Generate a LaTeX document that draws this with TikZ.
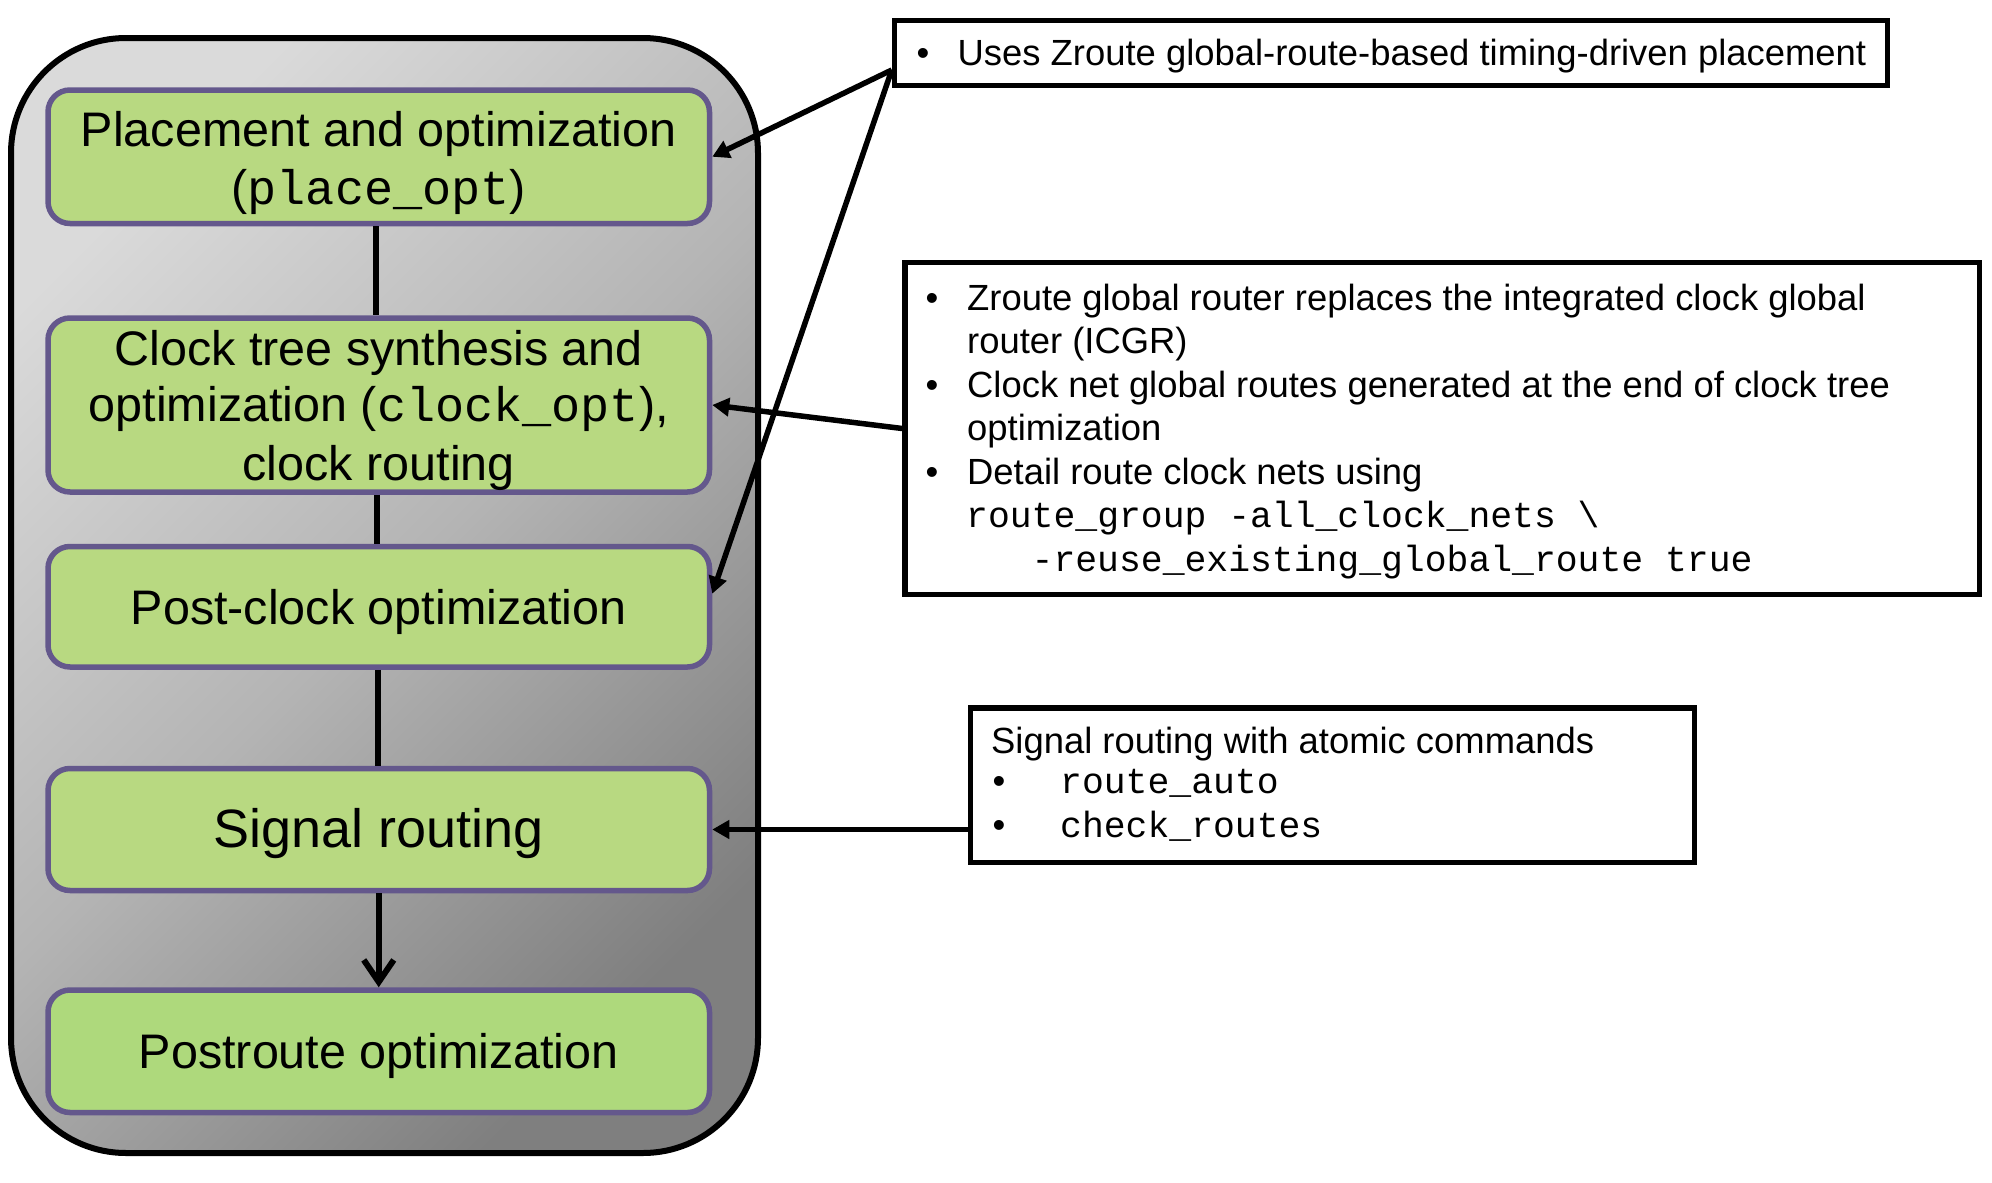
\documentclass[tikz,border=0pt]{standalone}
\usepackage{fontspec}
\setmainfont{Liberation Sans}
\setmonofont{Liberation Mono}
\usetikzlibrary{arrows.meta}
\definecolor{pborder}{HTML}{64588C}
\definecolor{gfill}{HTML}{B8D981}
\definecolor{gfillb}{HTML}{AED97C}
\definecolor{gtop}{HTML}{DADADA}
\definecolor{gmid}{HTML}{B4B4B4}
\definecolor{gbot}{HTML}{7F7F7F}
\tikzset{
  outerbox/.style={draw=black, line width=6pt, rounded corners=115pt,
    minimum width=747pt, minimum height=1115pt, inner sep=0pt,
    top color=gtop, bottom color=gbot, middle color=gmid, shading angle=45},
  gbox/.style={draw=pborder, line width=5.5pt, fill=gfill, rounded corners=22pt,
    minimum width=661.5pt, inner sep=0pt,
    font=\fontsize{48.5}{58}\selectfont},
  tbox/.style={draw=black, line width=5.5pt, inner sep=0pt},
  ln/.style={anchor=base west, inner sep=0pt, font=\fontsize{36.4}{43.6}\selectfont},
  link/.style={line width=6pt},
  conn/.style={line width=5.5pt, -{Triangle[length=17pt,width=18pt]}},
  downarr/.style={line width=6pt, -{Straight Barb[length=22pt,width=30pt]}}
}
\begin{document}
\begin{tikzpicture}[x=1pt,y=-1pt]
\path[use as bounding box, fill=white] (0,0) rectangle (1992,1183);

% container
\node[outerbox] (outer) at (384.5,595.5) {};

% flow boxes
\node[gbox, minimum height=133.5pt, align=center] (b1) at (378.75,156.75)
  {\rule{0pt}{48.5pt}Placement and optimization\\(\texttt{place\_opt})\rule[-12pt]{0pt}{12pt}};
\node[gbox, minimum height=161pt, align=center, font=\fontsize{48.5}{56}\selectfont] (b2) at (378.75,405)
  {\rule{0pt}{47pt}Clock tree synthesis and\\optimization (\texttt{clock\_opt}),\\[3pt]clock routing\rule[-12pt]{0pt}{12pt}};
\node[gbox, minimum height=120.5pt] (b3) at (378.75,606.75)
  {\rule[-11pt]{0pt}{56.5pt}Post-clock optimization};
\node[gbox, minimum height=122pt, font=\fontsize{54}{64}\selectfont] (b4) at (378.75,829.5)
  {\rule[-12pt]{0pt}{59pt}Signal routing};
\node[gbox, fill=gfillb, minimum height=122.5pt] (b5) at (378.75,1051.25)
  {\rule[-11pt]{0pt}{55.5pt}Postroute optimization};

% flow links
\draw[link] ([xshift=-3pt]b1.south) -- ([xshift=-3pt]b2.north);
\draw[link] ([xshift=-2pt]b2.south) -- ([xshift=-2pt]b3.north);
\draw[link] ([xshift=-1pt]b3.south) -- ([xshift=-1pt]b4.north);
\draw[downarr] (b4.south) -- (b5.north);

% note boxes
\node[tbox, minimum width=993pt, minimum height=65pt] (tb1) at (1391,53) {};
\node[tbox, minimum width=1074.5pt, minimum height=332pt] (tb2) at (1442.25,428.5) {};
\node[tbox, minimum width=724pt, minimum height=154.5pt] (tb3) at (1332.5,785.25) {};

% note texts
\node[ln] (t11) at (916.5,65.5) {\makebox[41pt][l]{•}Uses Zroute global-route-based timing-driven placement};

\node[ln] (t21) at (925.5,310) {\makebox[41.5pt][l]{•}Zroute global router replaces the integrated clock global};
\node[ln] (t22) at (967,353.5) {router (ICGR)};
\node[ln] (t23) at (925.5,397) {\makebox[41.5pt][l]{•}Clock net global routes generated at the end of clock tree};
\node[ln] (t24) at (967,440.5) {optimization};
\node[ln] (t25) at (925.5,484) {\makebox[41.5pt][l]{•}Detail route clock nets using};
\node[ln] (t26) at (966,527.5) {\ttfamily route\_group -all\_clock\_nets \textbackslash};
\node[ln] (t27) at (1031.5,571) {\ttfamily -reuse\_existing\_global\_route true};

\node[ln] (t31) at (991,753) {Signal routing with atomic commands};
\node[ln] (t32) at (992.5,793.5) {\makebox[67.5pt][l]{•}\texttt{route\_auto}};
\node[ln] (t33) at (992.5,837.5) {\makebox[67.5pt][l]{•}\texttt{check\_routes}};

% connectors from notes
\coordinate (s1) at ([yshift=-17pt]tb1.west);
\draw[conn] (s1) -- (b1.east);
\draw[conn] (s1) -- ([yshift=13pt]b3.east);
\draw[conn] (tb2.west) -- (b2.east);
\draw[conn] (tb3.west |- b4.east) -- (b4.east);
\end{tikzpicture}
\end{document}
